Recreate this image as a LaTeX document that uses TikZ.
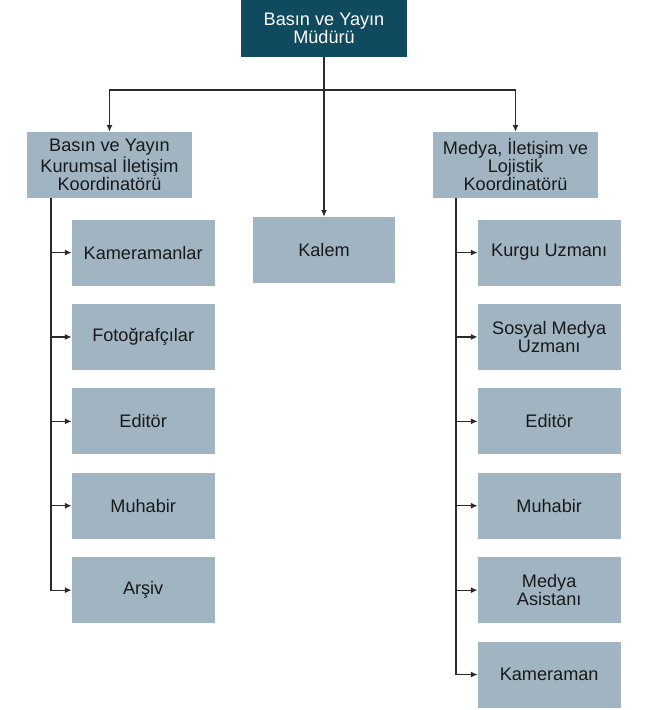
\documentclass[tikz,border=0pt]{standalone}
\usepackage{fontspec}
\setmainfont{Liberation Sans}
\usetikzlibrary{positioning, arrows.meta}
\definecolor{headteal}{HTML}{0F4A5F}
\definecolor{boxgray}{HTML}{A0B5C1}
\definecolor{linegray}{HTML}{2B2B2B}

\begin{document}
\begin{tikzpicture}[
    x=0.75pt, y=-0.75pt,
    unit/.style={rectangle, fill=boxgray, text=black!90, minimum width=107pt,
                 minimum height=49.5pt, align=center, inner sep=2pt,
                 font=\fontsize{13.6}{13.6}\selectfont},
    head/.style={unit, fill=headteal, text=white, minimum width=124.5pt, minimum height=43pt},
    lead/.style={unit, minimum width=124pt},
    link/.style={draw=linegray, line width=0.85pt},
    arrow/.style={link, -{Latex[length=5pt, width=4.5pt]}},
    node distance=13.4pt
]
\useasboundingbox (0,0) rectangle (644,710);

\node[head] (mudur) at (324,28.5) {Basın ve Yayın\\Müdürü};
\node[lead] (kurumsal) at (109.5,165) {Basın ve Yayın\\Kurumsal İletişim\\Koordinatörü};
\node[lead] (lojistik) at (515.5,165) {Medya, İletişim ve\\Lojistik\\Koordinatörü};
\node[unit] (kalem) at (324,250) {Kalem};

\node[unit, below right=15.75pt and 33.75pt of kurumsal.south west] (kameramanlar) {Kameramanlar};
\node[unit, below=of kameramanlar] (foto) {Fotoğrafçılar};
\node[unit, below=of foto] (editorL) {Editör};
\node[unit, below=of editorL] (muhabirL) {Muhabir};
\node[unit, below=of muhabirL] (arsiv) {Arşiv};

\node[unit, below right=15.75pt and 33.75pt of lojistik.south west] (kurgu) {Kurgu Uzmanı};
\node[unit, below=of kurgu] (sosyal) {Sosyal Medya\\Uzmanı};
\node[unit, below=of sosyal] (editorR) {Editör};
\node[unit, below=of editorR] (muhabirR) {Muhabir};
\node[unit, below=of muhabirR] (asistan) {Medya\\Asistanı};
\node[unit, below=of asistan] (kameraman) {Kameraman};

\coordinate (bar) at (324,90);
\coordinate (ltrunk) at (51,198);
\coordinate (rtrunk) at (456,198);

\draw[link] (mudur.south) -- (bar);
\draw[arrow] (bar) -| (kurumsal.north);
\draw[arrow] (bar) -| (lojistik.north);
\draw[arrow] (mudur.south) -- (kalem.north);

\draw[arrow] (ltrunk) |- (kameramanlar.west);
\draw[arrow] (ltrunk) |- (foto.west);
\draw[arrow] (ltrunk) |- (editorL.west);
\draw[arrow] (ltrunk) |- (muhabirL.west);
\draw[arrow] (ltrunk) |- (arsiv.west);

\draw[arrow] (rtrunk) |- (kurgu.west);
\draw[arrow] (rtrunk) |- (sosyal.west);
\draw[arrow] (rtrunk) |- (editorR.west);
\draw[arrow] (rtrunk) |- (muhabirR.west);
\draw[arrow] (rtrunk) |- (asistan.west);
\draw[arrow] (rtrunk) |- (kameraman.west);
\end{tikzpicture}
\end{document}
